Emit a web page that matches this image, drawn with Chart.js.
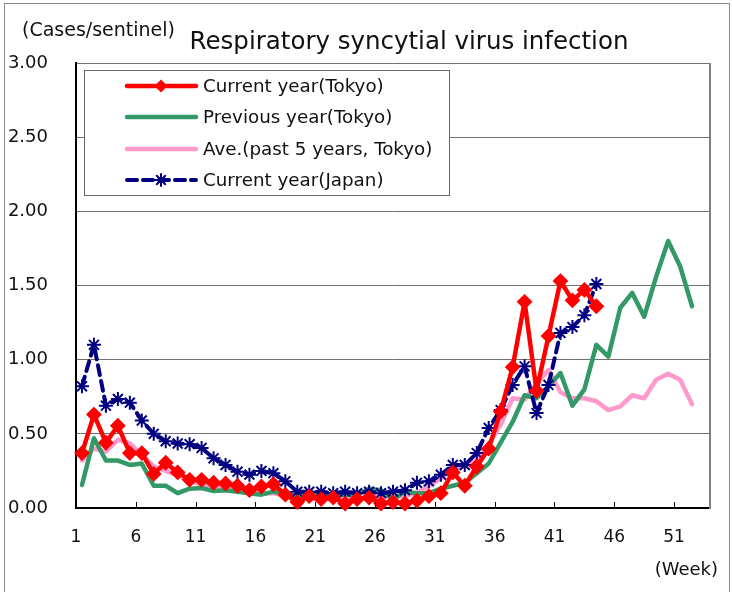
<!DOCTYPE html>
<html>
<head>
<meta charset="utf-8">
<script src="https://cdn.jsdelivr.net/npm/chart.js@4.4.0/dist/chart.umd.min.js"></script>
<style>
body{margin:0;background:#fff;}
canvas{display:block;}
</style>
</head>
<body>
<canvas id="mycanvas" width="732" height="592"></canvas>
<script>
var weeks=[1,2,3,4,5,6,7,8,9,10,11,12,13,14,15,16,17,18,19,20,21,22,23,24,25,26,
	27,28,29,30,31,32,33,34,35,36,37,38,39,40,41,42,43,44,45,46,47,48,49,50,51,52];

var currentTokyo=[0.37,0.63,0.44,0.555,0.37,0.37,0.23,0.305,0.24,0.19,0.19,0.17,0.165,0.15,0.12,0.145,0.16,0.09,0.04,0.08,
	0.06,0.07,0.03,0.06,0.07,0.03,0.04,0.03,0.05,0.08,0.10,0.24,0.15,0.28,0.40,0.65,0.95,1.39,0.79,1.16,1.53,1.40,1.47,1.36];

var previousTokyo=[0.155,0.47,0.32,0.32,0.29,0.30,0.15,0.15,0.10,0.13,0.135,0.115,0.12,0.11,0.10,0.09,0.11,0.10,0.08,0.10,
	0.10,0.09,0.09,0.09,0.13,0.12,0.06,0.11,0.10,0.10,0.13,0.15,0.17,0.235,0.30,0.44,0.58,0.76,0.74,0.82,0.91,0.69,0.80,1.10,
	1.02,1.35,1.45,1.29,1.56,1.80,1.63,1.36];

var avgTokyo=[0.32,0.40,0.38,0.46,0.435,0.36,0.28,0.25,0.22,0.18,0.16,0.15,0.13,0.12,0.11,0.10,0.10,0.08,0.07,0.06,
	0.06,0.06,0.07,0.06,0.08,0.08,0.07,0.08,0.10,0.15,0.20,0.26,0.28,0.32,0.43,0.56,0.74,0.73,0.84,0.93,0.78,0.74,0.74,0.72,
	0.66,0.685,0.76,0.74,0.865,0.905,0.865,0.70];

var currentJapan=[0.82,1.10,0.69,0.735,0.71,0.59,0.50,0.45,0.435,0.43,0.405,0.335,0.29,0.245,0.225,0.25,0.235,0.18,0.11,0.11,
	0.11,0.10,0.11,0.10,0.11,0.10,0.11,0.12,0.17,0.18,0.225,0.29,0.29,0.37,0.54,0.66,0.83,0.955,0.64,0.83,1.18,1.22,1.30,1.51];

var seriesNames=['Current year(Tokyo)','Previous year(Tokyo)','Ave.(past 5 years, Tokyo)','Current year(Japan)'];
var tickWeeks=[1,6,11,16,21,26,31,36,41,46,51];
var yTicks=[0,0.5,1,1.5,2,2.5,3];

var FONT='"DejaVu Sans", sans-serif';

function toPoints(vals){
	var pts=[];
	for(var i=0;i<vals.length;i++){
		pts.push({x:weeks[i],y:vals[i]});
	}
	return pts;
}

var chartdata={
	datasets:[
		{
			label:seriesNames[0],
			data:toPoints(currentTokyo),
			borderColor:'#ff0000',
			backgroundColor:'#ff0000',
			borderWidth:4.5,
			pointStyle:'rectRot',
			pointRadius:6.5,
			pointBorderWidth:2,
			order:0
		},
		{
			label:seriesNames[1],
			data:toPoints(previousTokyo),
			borderColor:'#339966',
			backgroundColor:'#339966',
			borderWidth:4.5,
			pointRadius:0,
			order:2
		},
		{
			label:seriesNames[2],
			data:toPoints(avgTokyo),
			borderColor:'#ff99cc',
			backgroundColor:'#ff99cc',
			borderWidth:4.5,
			pointRadius:0,
			order:3
		},
		{
			label:seriesNames[3],
			data:toPoints(currentJapan),
			borderColor:'#000080',
			backgroundColor:'#000080',
			borderWidth:4,
			borderDash:[10,6],
			pointStyle:'star',
			pointRadius:7,
			pointBorderWidth:2,
			order:1
		}
	]
};

// texts, frame, legend box and inward x ticks
var decor={
	id:'decor',
	beforeDraw:function(chart){
		var ctx=chart.ctx;
		ctx.save();
		ctx.fillStyle='#fff';
		ctx.fillRect(0,0,chart.width,chart.height);
		ctx.strokeStyle='#888';
		ctx.lineWidth=1;
		ctx.strokeRect(4.5,3.5,725,620);
		ctx.restore();
	},
	afterDraw:function(chart){
		var ctx=chart.ctx;
		var area=chart.chartArea;
		var xs=chart.scales.x;
		ctx.save();

		// right border of plot
		ctx.strokeStyle='#808080';
		ctx.lineWidth=2;
		ctx.beginPath();
		ctx.moveTo(area.right,area.top);
		ctx.lineTo(area.right,area.bottom+1);
		ctx.stroke();

		// tick marks inside the plot
		ctx.strokeStyle='#000';
		ctx.lineWidth=1;
		for(var i=0;i<tickWeeks.length;i++){
			var px=Math.round(xs.getPixelForValue(tickWeeks[i]-0.5))+0.5;
			ctx.beginPath();
			ctx.moveTo(px,area.bottom);
			ctx.lineTo(px,area.bottom-6);
			ctx.stroke();
		}

		ctx.fillStyle='#111';
		ctx.textBaseline='alphabetic';
		ctx.font='24.5px '+FONT;
		ctx.textAlign='center';
		ctx.fillText('Respiratory syncytial virus infection',409,49);
		ctx.font='19px '+FONT;
		ctx.textAlign='left';
		ctx.fillText('(Cases/sentinel)',22,36);
		ctx.font='18px '+FONT;
		ctx.textAlign='right';
		ctx.textBaseline='middle';
		ctx.fillText('(Week)',718,570);

		// legend
		ctx.fillStyle='#fff';
		ctx.fillRect(84.5,70.5,365,125);
		ctx.strokeStyle='#666';
		ctx.lineWidth=1;
		ctx.strokeRect(84.5,70.5,365,125);
		var rows=[86,117,149,180];
		var sets=chart.data.datasets;
		for(var j=0;j<sets.length;j++){
			var ds=sets[j];
			var y=rows[j];
			ctx.save();
			ctx.strokeStyle=ds.borderColor;
			ctx.lineWidth=ds.borderWidth;
			ctx.setLineDash(ds.borderDash||[]);
			ctx.lineCap='round';
			ctx.beginPath();
			ctx.moveTo(127,y);
			ctx.lineTo(196,y);
			ctx.stroke();
			ctx.setLineDash([]);
			if(ds.pointRadius>0){
				ctx.fillStyle=ds.backgroundColor;
				ctx.lineWidth=ds.pointBorderWidth;
				Chart.helpers.drawPoint(ctx,{pointStyle:ds.pointStyle,radius:ds.pointStyle=='star'?6:5,borderWidth:ds.pointBorderWidth,rotation:0},161,y);
			}
			ctx.restore();
			ctx.fillStyle='#111';
			ctx.font='18.3px '+FONT;
			ctx.textAlign='left';
			ctx.textBaseline='middle';
			ctx.fillText(ds.label,203,y+1);
		}
		ctx.restore();
	}
};

var ctx=document.getElementById('mycanvas');
var lineGraph=new Chart(ctx,{
	type:'line',
	data:chartdata,
	plugins:[decor],
	options:{
		responsive:false,
		animation:false,
		devicePixelRatio:1,
		layout:{padding:{left:0,right:22,top:63,bottom:0}},
		elements:{line:{tension:0,borderJoinStyle:'round',borderCapStyle:'round'}},
		datasets:{line:{clip:10}},
		plugins:{legend:{display:false},tooltip:{enabled:false},title:{display:false}},
		scales:{
			x:{
				type:'linear',
				min:0.5,
				max:53.5,
				grid:{display:false,drawTicks:false},
				border:{display:true,color:'#000',width:2},
				afterFit:function(scale){scale.height=84;},
				afterBuildTicks:function(scale){
					scale.ticks=tickWeeks.map(function(w){return {value:w-0.5};});
				},
				ticks:{
					autoSkip:false,
					maxRotation:0,
					padding:19,
					color:'#111',
					font:{family:FONT,size:17},
					callback:function(value,index){return String(tickWeeks[index]);}
				}
			},
			y:{
				min:0,
				max:3,
				grid:{color:'#707070',lineWidth:1,drawTicks:false},
				border:{display:true,color:'#000',width:2},
				afterFit:function(scale){scale.width=76;},
				afterBuildTicks:function(scale){
					scale.ticks=yTicks.map(function(v){return {value:v};});
				},
				ticks:{
					padding:28,
					color:'#111',
					font:{family:FONT,size:18},
					callback:function(value){return value.toFixed(2);}
				}
			}
		}
	}
});
</script>
</body>
</html>
